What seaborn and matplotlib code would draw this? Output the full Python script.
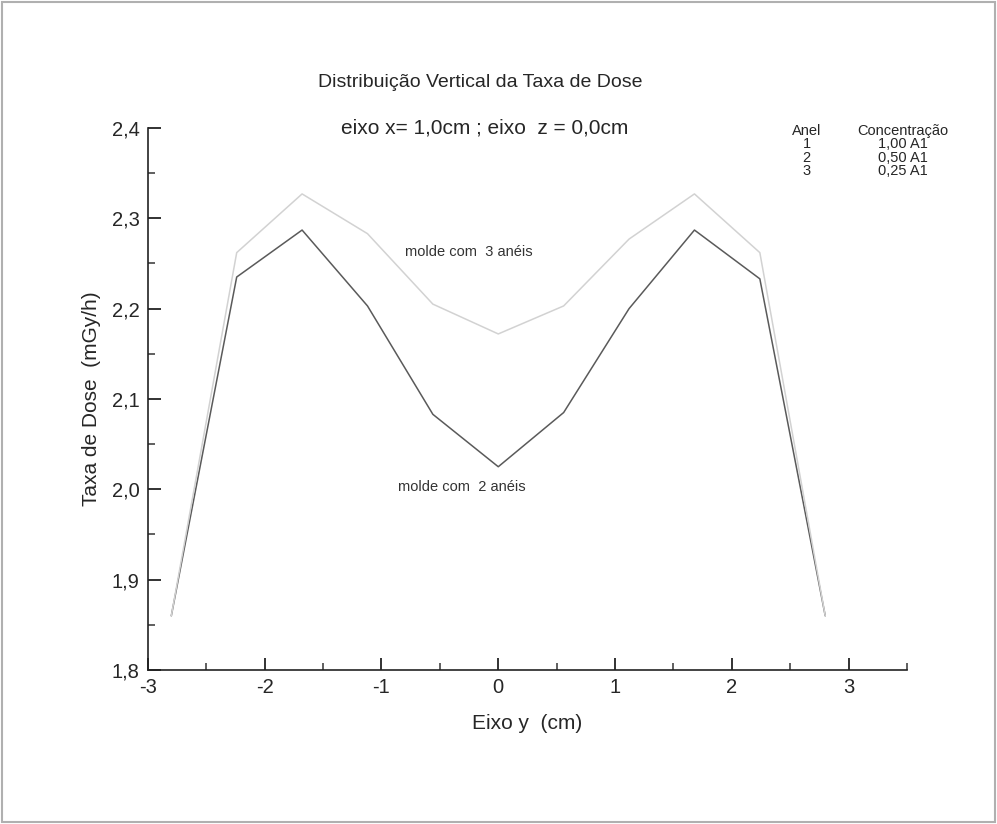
import numpy as np
import pandas as pd
import matplotlib
matplotlib.use("Agg")
import matplotlib.pyplot as plt
import matplotlib.ticker as mticker
import seaborn as sns

# data
eixo_y = [-2.8, -2.24, -1.68, -1.12, -0.56, 0.0, 0.56, 1.12, 1.68, 2.24, 2.8]
dose_2_aneis = [1.86, 2.235, 2.287, 2.203, 2.083, 2.025, 2.085, 2.200, 2.287, 2.233, 1.86]
dose_3_aneis = [1.86, 2.262, 2.327, 2.283, 2.205, 2.172, 2.203, 2.277, 2.327, 2.262, 1.86]

aneis = ["1", "2", "3"]
concentracao = ["1,00 A1", "0,50 A1", "0,25 A1"]

df = pd.DataFrame({
    "y": eixo_y * 2,
    "dose": dose_2_aneis + dose_3_aneis,
    "molde": ["2 anéis"] * len(eixo_y) + ["3 anéis"] * len(eixo_y),
})

sns.set_style("ticks")
plt.rcParams["font.family"] = ["Liberation Sans", "DejaVu Sans"]

fig = plt.figure(figsize=(9.97, 8.24), dpi=100)
ax = fig.add_axes([0.1484, 0.1869, 0.7613, 0.6578])

sns.lineplot(data=df, x="y", y="dose", hue="molde",
             palette={"2 anéis": "#5a5a5a", "3 anéis": "#d2d2d2"},
             linewidth=1.1, legend=False, ax=ax)

ax.set_xlim(-3.0, 3.5)
ax.set_ylim(1.8, 2.4)
ax.xaxis.set_major_locator(mticker.MultipleLocator(1))
ax.xaxis.set_minor_locator(mticker.MultipleLocator(0.5))
ax.yaxis.set_major_locator(mticker.MultipleLocator(0.1))
ax.yaxis.set_minor_locator(mticker.MultipleLocator(0.05))
ax.xaxis.set_major_formatter(mticker.FuncFormatter(lambda v, p: f"{v:.0f}"))
ax.yaxis.set_major_formatter(mticker.FuncFormatter(lambda v, p: f"{v:.1f}".replace(".", ",")))
ax.tick_params(axis="both", which="major", direction="in", length=9, width=1.3,
               labelsize=14.5, color="#222222", pad=6)
ax.tick_params(axis="both", which="minor", direction="in", length=5, width=1.2,
               color="#444444")
sns.despine(ax=ax)
for s in ["left", "bottom"]:
    ax.spines[s].set_color("#222222")
    ax.spines[s].set_linewidth(1.2)

ax.set_xlabel("Eixo y  (cm)", fontsize=15, labelpad=12)
ax.set_ylabel("Taxa de Dose  (mGy/h)", fontsize=15, labelpad=8)

fig.text(0.482, 0.900, "Distribuição Vertical da Taxa de Dose", fontsize=14,
         ha="center", va="center")
fig.text(0.486, 0.845, "eixo x= 1,0cm ; eixo  z = 0,0cm", fontsize=15,
         ha="center", va="center")

ax.text(-0.25, 2.263, "molde com  3 anéis", fontsize=10.5, ha="center", va="center",
        color="#333333")
ax.text(-0.31, 2.003, "molde com  2 anéis", fontsize=10.5, ha="center", va="center",
        color="#333333")

# table in the upper right
fig.text(0.809, 0.841, "Anel", fontsize=10.5, ha="center", va="center")
fig.text(0.906, 0.841, "Concentração", fontsize=10.5, ha="center", va="center")
for i, (a, c) in enumerate(zip(aneis, concentracao)):
    yy = 0.825 - i * 0.0162
    fig.text(0.809, yy, a, fontsize=10.5, ha="center", va="center")
    fig.text(0.906, yy, c, fontsize=10.5, ha="center", va="center")

# scan border
fig.patches.append(plt.Rectangle((0.002, 0.003), 0.996, 0.994, transform=fig.transFigure,
                                 fill=False, edgecolor="#b0b0b0", linewidth=1.5))

fig.savefig("out.png", dpi=100)
